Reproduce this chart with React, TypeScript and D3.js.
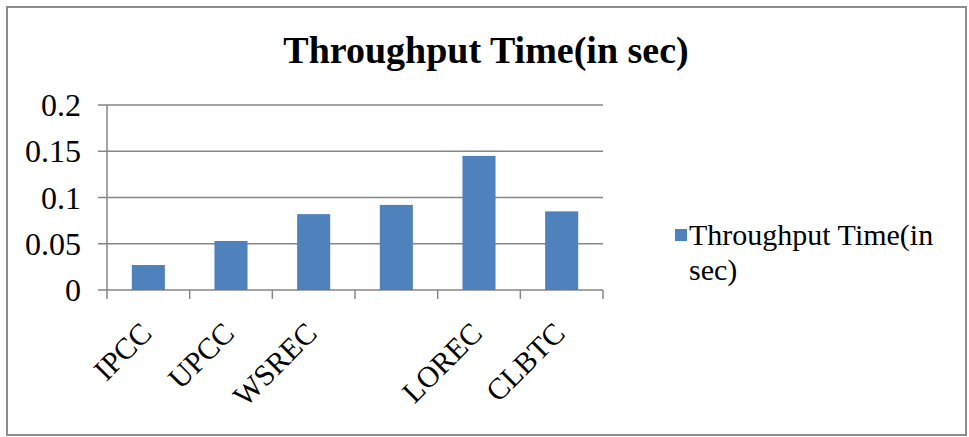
import * as d3 from "d3";

const categories = ["IPCC", "UPCC", "WSREC", "", "LOREC", "CLBTC"];
const throughput = [0.027, 0.053, 0.082, 0.092, 0.145, 0.085];
const yTicks = [0, 0.05, 0.1, 0.15, 0.2];
const yTickLabels = ["0", "0.05", "0.1", "0.15", "0.2"];
const seriesName = ["Throughput Time(in", "sec)"];
const chartTitle = "Throughput Time(in sec)";

const width = 969;
const height = 437;
const barColor = "#4F81BD";
const lineColor = "#868686";
const font = "'Liberation Serif', 'Times New Roman', serif";

function App() {
	const x = d3
		.scaleBand<number>()
		.domain(d3.range(categories.length))
		.range([107, 603])
		.paddingInner(0.6)
		.paddingOuter(0.3);
	const y = d3.scaleLinear().domain([0, 0.2]).range([290, 105]);
	const step = x.step();
	const boundaries = d3.range(categories.length + 1).map((i) => 107 + i * step);

	return (
		<svg
			width={width}
			height={height}
			style={{ position: "absolute", left: 0, top: 0, fontFamily: font }}
		>
			<rect x={0} y={0} width={width} height={height} fill="white" />
			<rect x={7} y={7} width={959} height={428} fill="none" stroke="#8c8c8c" strokeWidth={2} />
			<text x={486} y={63} textAnchor="middle" fontSize={38} fontWeight="bold" fill="black">
				{chartTitle}
			</text>

			{yTicks.map((t, i) => (
				<g key={"y" + i}>
					<line x1={98} x2={603} y1={y(t)} y2={y(t)} stroke={lineColor} strokeWidth={1.5} />
					<text x={81} y={y(t)} dy="0.35em" textAnchor="end" fontSize={32} fill="black">
						{yTickLabels[i]}
					</text>
				</g>
			))}
			<line x1={107} x2={107} y1={105} y2={290} stroke={lineColor} strokeWidth={1.5} />

			{throughput.map((v, i) => (
				<rect key={"b" + i} x={x(i)} y={y(v)} width={x.bandwidth()} height={y(0) - y(v)} fill={barColor} />
			))}

			{boundaries.map((bx, i) => (
				<line key={"t" + i} x1={bx} x2={bx} y1={290} y2={299} stroke={lineColor} strokeWidth={1.5} />
			))}

			{categories.map((c, i) => {
				const cx = (x(i) as number) + x.bandwidth() / 2;
				return (
					<text
						key={"c" + i}
						transform={`translate(${cx + 5},${335}) rotate(-45)`}
						textAnchor="end"
						fontSize={30}
						fill="black"
					>
						{c}
					</text>
				);
			})}

			<rect x={675} y={229} width={12} height={12} fill={barColor} />
			{seriesName.map((s, i) => (
				<text key={"l" + i} x={689} y={245 + i * 35} fontSize={30} fill="black">
					{s}
				</text>
			))}
		</svg>
	);
}

export default App;
